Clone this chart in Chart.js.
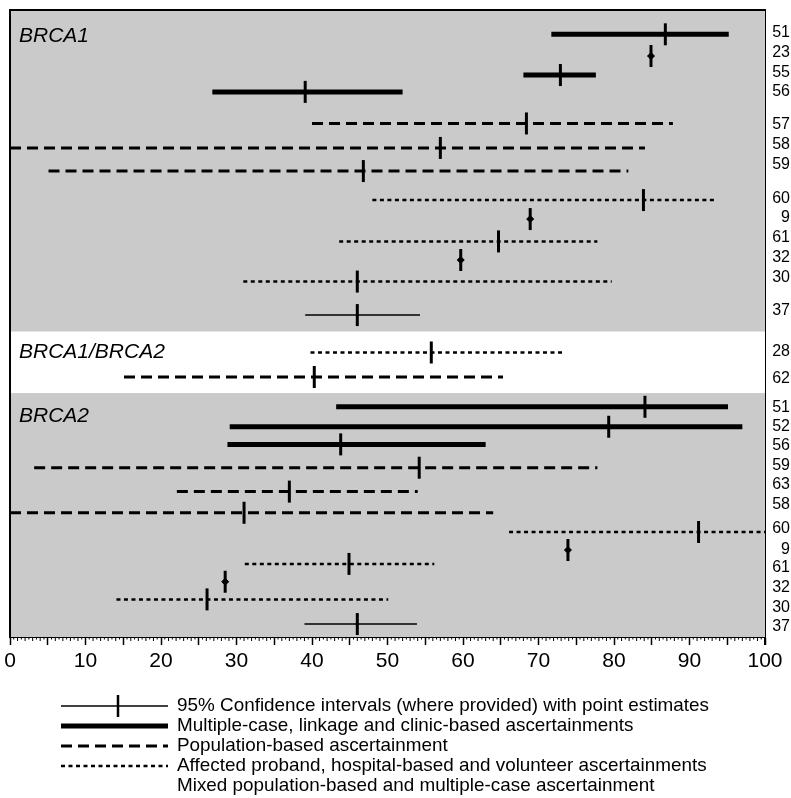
<!DOCTYPE html>
<html lang="en">
<head>
  <meta charset="UTF-8" />
  <title>BRCA1 / BRCA2 estimates by ascertainment</title>
  <script src="https://cdn.jsdelivr.net/npm/chart.js"></script>
  <style>
    html, body { margin: 0; padding: 0; background: #fff; }
    #ciChart { display: block; }
  </style>
</head>
<body>
  <canvas id="ciChart" width="791" height="798"></canvas>

  <script>
    // study reference numbers, top to bottom
    const studies = ["51", "23", "55", "56", "57", "58", "59", "60", "9", "61", "32", "30", "37",
                     "28", "62",
                     "51", "52", "56", "59", "63", "58", "60", "9", "61", "32", "30", "37"];
    // ascertainment type per row (point = estimate only, no interval)
    const kinds = ["multi", "point", "multi", "multi", "pop", "pop", "pop", "aff", "point", "aff", "point", "aff", "mixed",
                   "aff", "pop",
                   "multi", "multi", "multi", "pop", "pop", "pop", "aff", "point", "aff", "point", "aff", "mixed"];
    const lower = [71.7, null, 68.0, 26.8, 40.0, 0, 5.1, 48.0, null, 43.6, null, 30.9, 39.1,
                   39.8, 15.1,
                   43.2, 29.1, 28.8, 3.2, 22.1, 0, 66.1, null, 31.1, null, 14.1, 39.0];
    const upper = [95.2, null, 77.6, 52.0, 87.8, 84.1, 81.9, 93.4, null, 77.8, null, 79.7, 54.3,
                   73.3, 65.3,
                   95.1, 97.0, 63.0, 77.8, 54.0, 64.0, 100, null, 56.2, null, 50.1, 53.9];
    const estimate = [86.8, 84.9, 72.9, 39.1, 68.4, 57.0, 46.8, 83.9, 68.9, 64.7, 59.7, 46.0, 46.0,
                      55.8, 40.3,
                      84.1, 79.3, 43.8, 54.2, 37.0, 31.0, 91.2, 73.9, 44.9, 28.5, 26.1, 46.0];
    // row of each study on the vertical scale (counted from the top)
    const rowPos = [1.24, 2.35, 3.32, 4.18, 5.79, 7.04, 8.22, 9.70, 10.67, 11.81, 12.76, 13.86, 15.57,
                    17.48, 18.73,
                    20.25, 21.27, 22.17, 23.36, 24.58, 25.66, 26.64, 27.56, 28.27, 29.18, 30.08, 31.34];
    // rows where the reference numbers are printed on the right
    const labelPos = [1.17, 2.19, 3.22, 4.18, 5.87, 6.89, 7.91, 9.65, 10.62, 11.64, 12.66, 13.68, 15.36,
                      17.44, 18.80,
                      20.31, 21.28, 22.25, 23.27, 24.24, 25.26, 26.49, 27.52, 28.48, 29.50, 30.51, 31.49];
    const groups = ["BRCA1", "BRCA1/BRCA2", "BRCA2"];
    const groupRow = [1.33, 17.45, 20.72];
    const mixedBand = [16.41, 19.55];   // white band behind BRCA1/BRCA2 rows

    const legendTexts = [
      "95% Confidence intervals (where provided) with point estimates",
      "Multiple-case, linkage and clinic-based ascertainments",
      "Population-based ascertainment",
      "Affected proband, hospital-based and volunteer ascertainments",
      "Mixed population-based and multiple-case ascertainment"
    ];

    const lineStyle = {
      multi: { width: 5, dash: [] },
      pop:   { width: 3, dash: [11, 6] },
      aff:   { width: 2.5, dash: [4, 3.5] },
      mixed: { width: 1.5, dash: [] }
    };

    const FONT = '"Liberation Sans", Arial, sans-serif';

    // one dataset per interval
    const datasets = [];
    studies.forEach((s, i) => {
      if (lower[i] === null) return;
      const st = lineStyle[kinds[i]];
      datasets.push({
        showLine: true,
        data: [{ x: lower[i], y: rowPos[i] }, { x: upper[i], y: rowPos[i] }],
        borderColor: "#000",
        borderWidth: st.width,
        borderDash: st.dash,
        pointRadius: 0
      });
    });
    // point estimates as vertical bars
    datasets.push({
      data: estimate.map((v, i) => ({ x: v, y: rowPos[i] })),
      pointStyle: "line",
      rotation: 90,
      pointRadius: 11,
      borderColor: "#000",
      borderWidth: 3
    });
    // little diamond for estimates without interval
    datasets.push({
      data: estimate.map((v, i) => ({ x: v, y: rowPos[i] })).filter((p, i) => kinds[i] === "point"),
      pointStyle: "rectRot",
      pointRadius: 3.5,
      backgroundColor: "#000",
      borderColor: "#000",
      borderWidth: 1
    });

    const panelPlugin = {
      id: "panel",
      beforeDatasetsDraw(chart) {
        const { ctx, chartArea: a, scales } = chart;
        ctx.save();
        ctx.fillStyle = "#cacaca";
        ctx.fillRect(a.left, a.top, a.right - a.left, a.bottom - a.top);
        const t = scales.y.getPixelForValue(mixedBand[0]);
        const b = scales.y.getPixelForValue(mixedBand[1]);
        ctx.fillStyle = "#fff";
        ctx.fillRect(a.left, t, a.right - a.left, b - t);
        ctx.restore();
      },
      afterDraw(chart) {
        const { ctx, chartArea: a, scales } = chart;
        ctx.save();
        // frame top and left
        ctx.strokeStyle = "#000";
        ctx.lineWidth = 2;
        ctx.beginPath();
        ctx.moveTo(a.left, a.bottom);
        ctx.lineTo(a.left, a.top);
        ctx.lineTo(a.right, a.top);
        ctx.stroke();
        ctx.beginPath();
        ctx.moveTo(a.right, a.bottom);
        ctx.lineTo(a.right, a.bottom + 8);
        ctx.stroke();

        // minor ticks on the x axis
        ctx.lineWidth = 1;
        for (let v = 0.5; v < 100; v += 0.5) {
          if (v % 5 === 0) continue;
          const x = scales.x.getPixelForValue(v);
          const len = Number.isInteger(v) ? 4 : 2.5;
          ctx.beginPath();
          ctx.moveTo(x, a.bottom);
          ctx.lineTo(x, a.bottom + len);
          ctx.stroke();
        }

        // group titles
        ctx.fillStyle = "#000";
        ctx.font = "italic 21px " + FONT;
        ctx.textBaseline = "middle";
        ctx.textAlign = "left";
        groups.forEach((g, i) => {
          ctx.fillText(g, a.left + 9, scales.y.getPixelForValue(groupRow[i]));
        });

        // legend below the axis
        const lx0 = 61, lx1 = 168, tx = 177;
        const ly = [706, 726, 746, 766, 786];
        ctx.font = "19px " + FONT;
        const sx = 532 / ctx.measureText(legendTexts[0]).width;
        legendTexts.forEach((txt, i) => {
          ctx.save();
          ctx.translate(tx, ly[i]);
          ctx.scale(sx, 1);
          ctx.fillText(txt, 0, 0);
          ctx.restore();
        });
        const samples = ["mixed", "multi", "pop", "aff"];
        samples.forEach((k, i) => {
          const st = lineStyle[k];
          ctx.lineWidth = st.width;
          ctx.setLineDash(st.dash);
          ctx.beginPath();
          ctx.moveTo(lx0, ly[i]);
          ctx.lineTo(lx1, ly[i]);
          ctx.stroke();
        });
        ctx.setLineDash([]);
        ctx.lineWidth = 2.5;
        ctx.beginPath();
        ctx.moveTo(118, ly[0] - 11);
        ctx.lineTo(118, ly[0] + 11);
        ctx.stroke();
        ctx.restore();
      }
    };

    new Chart(document.getElementById("ciChart"), {
      type: "scatter",
      data: { datasets: datasets },
      plugins: [panelPlugin],
      options: {
        responsive: false,
        animation: false,
        layout: {
          autoPadding: false,
          padding: { left: 10, top: 10, right: 1, bottom: 0 }
        },
        plugins: {
          legend: { display: false },
          tooltip: { enabled: false }
        },
        scales: {
          x: {
            type: "linear",
            min: 0,
            max: 100,
            afterFit: (scale) => {
              scale.height = 161;
              scale.paddingLeft = 0;
              scale.paddingRight = 0;
            },
            ticks: {
              stepSize: 5,
              autoSkip: false,
              maxRotation: 0,
              padding: 4,
              color: "#000",
              font: { family: FONT, size: 21 },
              callback: (v) => (v % 10 === 0 ? v : "")
            },
            grid: {
              drawOnChartArea: false,
              tickLength: 8,
              tickColor: "#000",
              tickWidth: 1.5
            },
            border: { display: true, color: "#000", width: 2 }
          },
          y: {
            display: false,
            reverse: true,
            min: 0,
            max: 32
          },
          y2: {
            position: "right",
            reverse: true,
            min: 0,
            max: 32,
            afterFit: (scale) => {
              scale.width = 25;
              scale.paddingTop = 0;
              scale.paddingBottom = 0;
            },
            afterBuildTicks: (scale) => {
              scale.ticks = labelPos.map((v) => ({ value: v }));
            },
            ticks: {
              autoSkip: false,
              crossAlign: "far",
              padding: 0,
              color: "#000",
              font: { family: FONT, size: 16 },
              callback: (v, i) => studies[i]
            },
            grid: { drawOnChartArea: false, drawTicks: false },
            border: { display: true, color: "#000", width: 2 }
          }
        }
      }
    });
  </script>
</body>
</html>
